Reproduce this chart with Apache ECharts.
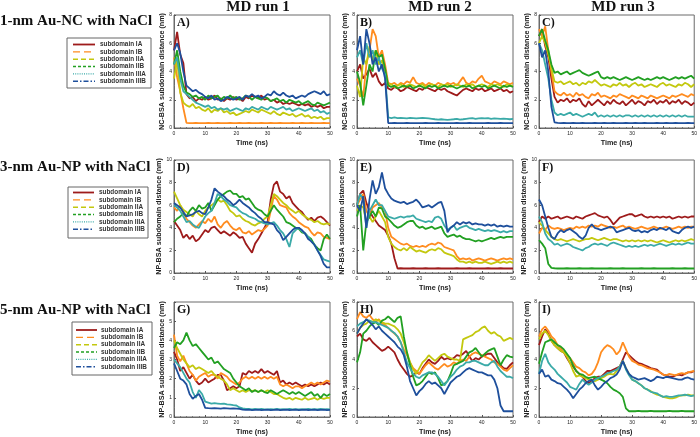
<!DOCTYPE html>
<html><head><meta charset="utf-8">
<script src="https://cdn.jsdelivr.net/npm/echarts@6/dist/echarts.min.js"></script>
<style>html,body{margin:0;padding:0;background:#fff}#c{width:700px;height:437px}</style>
</head><body><div id="c"></div>
<script>
// ---------- DATA ----------
const time = [0,1,2,3,4,5,6,7,8,9,10,11,12,13,14,15,16,17,18,19,20,21,22,23,24,25,26,27,28,29,30,31,32,33,34,35,36,37,38,39,40,41,42,43,44,45,46,47,48,49,50];
const subdomains = ['subdomain IA','subdomain IB','subdomain IIA','subdomain IIB','subdomain IIIA','subdomain IIIB'];
const colTitles = ['MD run 1','MD run 2','MD run 3'];
const rowTitles = ['1-nm Au-NC with NaCl','3-nm Au-NP with NaCl','5-nm Au-NP with NaCl'];
const yNames = ['NC-BSA subdomain distance (nm)','NP-BSA subdomain distance (nm)','NP-BSA subdomain distance (nm)'];
const panelLabels = ['A)','B)','C)','D)','E)','F)','G)','H)','I)'];
const yMax = [8,8,8,10,10,10,6,8,8];
const yStep = [2,2,2,2,2,2,1,2,2];

// Panel A
const A_IA = [5.5,6.8,5.2,4.6,2.4,2.1,2.2,1.9,2.1,2.0, 2.2,2.0,2.1,2.3,2.0,2.1,1.9,2.1,2.0,2.2, 2.0,2.1,1.9,2.2,2.1,2.3,2.2,2.1,2.3,2.0, 2.1,1.9,2.0,1.8,1.9,1.7,1.8,1.7,1.8,1.7, 1.6,1.7,1.6,1.7,1.5,1.6,1.5,1.6,1.4,1.5, 1.5];
const A_IB = [5.0,3.6,2.6,1.4,0.36,0.35,0.34,0.36,0.35,0.34, 0.35,0.36,0.34,0.35,0.36,0.35,0.34,0.35,0.36,0.35, 0.35,0.36,0.34,0.35,0.36,0.35,0.34,0.35,0.36,0.35, 0.35,0.36,0.34,0.35,0.36,0.35,0.34,0.35,0.36,0.35, 0.35,0.36,0.34,0.35,0.36,0.35,0.34,0.35,0.36,0.35, 0.35];
const A_IIA = [3.5,4.8,2.5,1.8,1.6,1.5,1.7,1.4,1.5,1.3, 1.2,1.4,1.1,1.3,1.2,1.4,1.1,1.2,1.0,1.1, 0.9,1.0,1.1,1.2,1.1,1.3,1.2,1.1,1.3,1.2, 1.1,1.0,1.2,1.0,0.9,1.1,1.0,0.9,1.0,0.8, 0.9,1.0,0.8,0.9,0.7,0.8,0.7,0.8,0.6,0.7, 0.7];
const A_IIB = [4.5,5.5,4.0,3.0,2.5,2.4,2.2,2.3,2.1,2.2, 2.0,2.3,2.1,2.2,2.3,2.0,2.2,2.1,2.3,2.1, 2.2,2.0,2.1,2.3,2.2,2.0,2.2,2.1,2.0,2.2, 2.1,1.9,2.0,2.1,1.9,2.0,1.8,2.0,1.9,1.8, 1.9,1.7,1.8,1.9,1.7,1.6,1.8,1.7,1.6,1.7, 1.8];
const A_IIIA = [4.5,5.0,3.5,2.6,2.4,2.2,2.0,1.8,1.7,1.6, 1.5,1.6,1.4,1.5,1.3,1.4,1.3,1.4,1.2,1.3, 1.4,1.3,1.2,1.4,1.3,1.5,1.4,1.3,1.5,1.4, 1.3,1.5,1.4,1.3,1.4,1.5,1.3,1.4,1.2,1.3, 1.4,1.3,1.2,1.3,1.4,1.2,1.3,1.1,1.2,1.0, 1.1];
const A_IIIB = [5.5,6.0,5.3,4.0,3.0,2.8,2.6,2.7,2.5,2.4, 2.2,2.1,2.3,2.0,2.1,1.9,2.0,2.2,2.1,2.0, 2.1,2.2,2.0,2.3,2.2,2.4,2.2,2.3,2.1,2.2, 2.4,2.3,2.6,2.4,2.3,2.5,2.3,2.2,2.3,2.1, 2.2,2.3,2.2,2.4,2.5,2.6,2.5,2.4,2.6,2.3, 2.4];

// Panel B
const B_IA = [4.0,4.5,3.5,3.8,4.2,3.6,3.9,3.3,3.0,3.2, 2.8,2.7,2.9,2.8,2.6,2.7,2.9,2.8,2.7,2.6, 2.8,2.7,2.9,2.8,2.7,2.6,2.8,2.7,2.8,2.6, 2.5,2.4,2.3,2.5,2.7,2.8,2.7,2.6,2.8,2.7, 2.8,2.6,2.7,2.8,2.6,2.7,2.8,2.6,2.7,2.5, 2.6];
const B_IB = [3.5,3.0,2.2,4.5,5.5,7.0,6.5,5.0,5.5,4.5, 3.2,3.1,3.2,3.0,3.2,3.1,3.3,3.2,3.6,3.2, 3.1,3.2,3.0,3.2,3.1,3.0,3.2,3.1,3.0,3.2, 3.1,3.2,3.0,3.3,3.6,3.2,3.1,3.3,3.2,3.5, 3.7,3.3,3.2,3.1,3.3,3.2,3.1,3.3,3.2,3.1, 3.2];
const B_IIA = [3.0,2.2,5.0,4.5,5.8,4.8,5.5,4.5,4.8,3.8, 3.0,3.1,2.9,3.0,3.1,2.9,3.0,3.1,3.0,2.9, 3.0,3.1,2.9,3.0,3.1,3.0,2.9,3.1,3.0,3.1, 2.9,3.0,3.1,3.0,2.9,3.1,3.0,3.1,2.9,3.0, 3.1,3.0,2.9,3.1,3.0,3.1,3.0,2.9,3.1,3.0, 3.0];
const B_IIB = [4.0,3.2,1.6,3.0,4.5,4.0,5.5,5.0,5.2,4.2, 3.0,2.9,3.0,2.8,2.9,3.0,2.9,3.0,2.8,2.9, 3.0,2.9,2.8,3.0,2.9,3.0,2.8,2.9,3.0,2.9, 3.0,2.9,2.8,2.9,3.0,2.9,3.0,2.8,2.9,3.0, 2.9,3.0,2.8,2.9,3.0,2.9,2.8,3.0,2.9,3.0, 2.9];
const B_IIIA = [5.0,5.5,4.5,6.0,5.0,5.5,4.5,5.0,4.2,3.8, 0.75,0.7,0.75,0.7,0.72,0.7,0.68,0.72,0.7,0.68, 0.7,0.72,0.7,0.68,0.65,0.62,0.6,0.62,0.6,0.58, 0.6,0.62,0.65,0.6,0.62,0.65,0.68,0.7,0.65,0.68, 0.7,0.68,0.7,0.65,0.68,0.66,0.64,0.66,0.64,0.62, 0.64];
const B_IIIB = [5.5,6.5,4.5,7.0,6.0,4.5,5.0,4.0,4.5,3.5, 0.35,0.34,0.36,0.35,0.34,0.35,0.36,0.35,0.34,0.35, 0.35,0.34,0.36,0.35,0.34,0.35,0.36,0.35,0.34,0.35, 0.35,0.34,0.36,0.35,0.34,0.35,0.36,0.35,0.34,0.35, 0.35,0.34,0.36,0.35,0.34,0.35,0.36,0.35,0.34,0.35, 0.35];

// Panel C
const C_IA = [6.5,7.0,5.8,5.0,3.5,2.2,1.8,2.0,1.9,2.1, 1.8,2.0,1.9,2.1,1.7,1.5,1.9,1.6,1.8,2.0, 1.8,1.6,1.9,1.7,2.0,1.8,1.7,1.9,1.6,1.8, 2.0,1.7,1.9,1.8,1.6,1.9,1.8,2.0,1.7,1.9, 1.8,2.0,1.7,1.9,1.8,2.0,1.7,1.9,1.8,1.6, 1.8];
const C_IB = [7.0,6.5,7.2,5.5,4.0,2.6,2.4,2.3,2.5,2.3, 2.4,2.2,2.5,2.3,2.4,2.2,2.1,2.4,2.3,2.5, 2.2,2.3,2.2,2.1,2.3,2.2,2.4,2.3,2.2,2.1, 2.3,2.2,2.1,2.3,2.2,2.1,2.3,2.2,2.1,2.2, 2.3,2.2,2.1,2.3,2.2,2.3,2.4,2.3,2.2,2.4, 2.3];
const C_IIA = [6.0,6.5,6.0,5.2,4.2,3.3,3.2,3.3,3.1,3.2, 3.3,3.1,3.2,3.0,3.2,3.1,3.3,3.2,3.4,3.2, 3.0,3.1,3.0,2.9,3.1,3.0,3.2,3.0,3.1,2.9, 3.1,3.2,3.0,3.1,2.9,3.0,3.1,3.0,2.9,3.1, 3.2,3.0,3.1,3.0,2.9,3.1,3.0,3.2,3.1,2.9, 3.1];
const C_IIB = [6.5,7.0,6.2,5.5,4.5,3.9,4.0,3.8,3.9,4.0, 3.8,3.9,4.0,4.1,3.9,3.8,3.7,3.8,3.9,4.0, 3.6,3.5,3.6,3.5,3.6,3.5,3.4,3.5,3.6,3.5, 3.4,3.5,3.6,3.5,3.4,3.5,3.4,3.5,3.6,3.5, 3.6,3.5,3.4,3.5,3.6,3.5,3.6,3.5,3.6,3.7, 3.5];
const C_IIIA = [6.0,5.5,4.5,3.5,2.0,1.1,0.9,1.0,0.9,1.0, 1.1,0.9,1.0,0.9,0.8,0.9,1.0,0.9,1.1,0.8, 0.9,0.8,0.9,0.8,0.9,0.8,0.9,0.8,0.9,0.9, 0.8,0.9,0.8,0.9,0.8,0.9,0.8,0.9,0.8,0.9, 0.8,0.9,0.8,0.9,0.8,0.9,0.8,0.9,0.8,0.8, 0.8];
const C_IIIB = [6.0,5.0,5.5,4.0,1.5,0.4,0.36,0.35,0.36,0.35, 0.35,0.36,0.34,0.35,0.36,0.35,0.34,0.35,0.36,0.35, 0.35,0.36,0.34,0.35,0.36,0.35,0.34,0.35,0.36,0.35, 0.35,0.36,0.34,0.35,0.36,0.35,0.34,0.35,0.36,0.35, 0.35,0.36,0.34,0.35,0.36,0.35,0.34,0.35,0.36,0.35, 0.35];

// Panel D
const D_IA = [4.6,4.2,3.8,3.1,3.4,3.0,3.3,2.8,3.0,3.4, 3.8,3.6,4.0,4.1,3.8,3.5,3.7,3.5,3.3,3.6, 3.4,3.1,3.2,2.6,2.2,1.8,2.6,3.0,3.5,4.0, 4.5,6.5,7.8,8.1,7.2,7.0,6.6,6.8,6.2,5.9, 5.6,5.4,5.0,4.7,4.9,4.6,4.9,5.0,4.8,4.5, 4.2];
const D_IB = [5.8,5.5,6.0,5.3,4.8,4.5,4.2,4.0,4.3,4.6, 4.4,4.8,4.5,5.0,4.3,4.0,4.4,4.6,4.2,3.9, 3.8,4.0,3.6,3.5,3.7,3.4,3.6,3.8,3.7,3.9, 4.2,5.5,6.8,6.5,6.0,5.9,5.8,5.3,5.0,4.8, 4.5,4.3,4.1,4.0,3.6,3.3,3.6,3.5,3.2,3.1, 3.0];
const D_IIA = [7.2,6.6,6.0,5.6,5.4,5.2,5.0,5.5,5.2,5.0, 5.5,5.8,6.0,6.2,6.5,6.3,6.4,6.0,5.5,5.3, 5.0,5.1,4.8,4.6,4.5,4.3,4.2,4.4,4.5,4.8, 5.0,6.0,7.0,6.8,6.5,6.2,6.0,5.7,5.5,5.3, 5.5,5.2,5.0,4.8,4.7,4.5,4.6,4.4,4.3,4.4, 4.3];
const D_IIB = [4.5,4.8,5.0,5.3,5.0,5.5,5.8,5.5,6.0,5.7, 5.8,6.2,5.5,6.0,6.5,6.8,7.0,7.2,7.3,7.0, 7.0,6.7,6.8,6.5,6.6,6.2,5.8,5.6,5.5,5.2, 5.0,5.5,6.0,5.6,5.3,5.0,4.5,4.4,4.2,4.0, 3.9,3.6,3.5,3.2,3.0,2.5,2.2,2.0,3.0,3.4, 3.0];
const D_IIIA = [6.0,5.8,5.5,5.0,4.5,4.6,4.3,4.1,4.0,4.5, 5.0,5.3,5.5,6.2,7.0,6.8,6.5,6.3,6.0,5.9, 5.8,5.5,5.3,5.2,5.0,4.9,4.8,4.6,4.5,4.4, 4.3,4.4,4.5,4.2,3.8,3.5,3.0,2.3,3.5,3.8, 4.0,3.7,3.5,3.2,2.8,2.5,2.0,1.6,1.2,1.1, 1.0];
const D_IIIB = [6.2,6.0,5.8,5.4,5.0,5.1,5.2,5.4,5.5,5.3, 5.2,5.8,6.5,7.5,7.2,7.0,6.8,6.5,6.3,6.0, 6.2,6.5,6.2,6.0,5.8,5.5,5.3,5.0,4.8,4.5, 4.5,4.4,4.3,3.8,3.5,2.9,3.2,3.5,3.8,4.0, 4.0,3.8,3.5,3.0,2.8,2.5,2.0,1.5,0.8,0.5, 0.5];

// Panel E
const E_IA = [6.0,7.0,7.3,6.2,5.5,5.0,4.6,4.2,4.0,3.8, 3.3,2.6,1.3,0.4,0.42,0.4,0.41,0.4,0.42,0.4, 0.41,0.4,0.42,0.4,0.41,0.4,0.42,0.4,0.41,0.4, 0.41,0.4,0.42,0.4,0.41,0.4,0.42,0.4,0.41,0.4, 0.41,0.4,0.42,0.4,0.41,0.4,0.42,0.4,0.41,0.4, 0.4];
const E_IB = [6.0,6.5,7.0,5.5,5.0,5.8,6.0,6.2,5.8,5.5, 4.0,3.2,3.0,2.8,2.6,2.5,2.6,2.4,2.3,2.4, 2.3,2.4,2.3,2.5,2.6,2.5,2.7,2.6,2.3,2.2, 2.1,2.0,1.5,1.2,1.3,1.2,1.3,1.1,1.2,1.3, 1.2,1.1,1.2,1.3,1.2,1.1,1.2,1.3,1.2,1.3, 1.2];
const E_IIA = [5.5,6.0,5.8,4.5,5.0,4.5,5.0,5.5,5.0,4.5, 3.2,2.6,2.3,2.1,2.0,2.2,2.0,2.3,2.1,1.9, 2.0,1.9,1.8,2.0,2.1,2.0,2.2,2.1,1.8,1.7, 1.6,1.5,1.2,1.0,1.0,0.9,1.0,0.9,1.0,0.9, 0.9,1.0,0.9,0.8,0.9,1.0,0.9,1.0,0.9,1.0, 0.9];
const E_IIB = [5.0,6.0,2.0,4.5,5.0,5.5,5.0,5.8,5.7,5.0, 4.8,4.5,4.2,4.0,4.1,4.3,4.5,4.6,4.6,4.2, 4.0,4.1,3.9,4.0,4.1,3.9,4.0,4.1,3.5,3.2, 3.3,3.4,3.2,3.3,3.1,3.0,3.0,2.9,2.8,2.9, 2.8,2.9,3.0,3.1,3.0,3.1,3.2,3.1,3.2,3.2, 3.2];
const E_IIIA = [6.0,7.0,6.5,4.0,5.5,6.0,6.5,6.0,6.0,5.5, 5.0,4.9,4.8,4.9,5.0,4.9,5.0,5.0,5.1,4.8, 4.7,4.6,4.5,4.6,4.5,4.9,5.0,4.8,4.2,3.8, 4.0,4.2,3.8,4.0,4.1,4.2,4.0,3.9,3.8,3.9, 3.8,3.7,3.8,3.7,3.8,3.7,3.6,3.7,3.6,3.7, 3.7];
const E_IIIB = [6.0,5.5,6.8,4.0,6.5,8.2,7.0,7.6,8.9,7.5, 7.0,6.6,6.4,6.3,6.2,6.3,6.1,6.2,6.3,6.5, 6.2,5.8,5.9,6.0,5.8,6.0,6.2,6.3,5.5,3.6, 4.0,4.2,4.5,4.3,4.5,4.4,4.5,4.3,4.4,4.3, 4.3,4.2,4.3,4.2,4.3,4.1,4.2,4.1,4.2,4.1, 4.1];

// Panel F
const F_IA = [4.5,5.0,4.8,5.0,4.8,4.9,5.0,4.8,4.9,5.0, 4.9,4.8,5.0,4.9,4.8,5.0,5.1,5.2,5.3,5.1, 5.0,4.9,5.0,4.7,4.3,4.6,4.9,5.0,5.1,5.2, 5.2,5.0,5.1,5.2,5.0,4.9,5.0,4.9,5.0,4.9, 5.0,4.9,5.0,4.8,4.9,5.0,4.9,5.0,4.9,5.0, 5.0];
const F_IB = [3.5,4.0,3.8,4.2,4.0,3.9,4.0,3.9,3.8,3.9, 4.0,3.9,4.1,4.0,4.1,4.0,4.2,4.1,4.2,4.1, 4.3,4.2,4.1,4.0,4.1,4.0,4.1,4.2,4.0,4.1, 4.0,3.9,4.0,4.1,4.0,3.9,4.0,4.1,4.0,3.9, 4.0,4.1,4.0,3.9,4.0,4.1,4.0,4.1,4.0,4.1, 4.1];
const F_IIA = [4.5,4.2,3.8,3.5,3.2,3.0,2.9,3.0,2.9,2.8, 2.9,3.0,2.9,2.8,2.9,3.0,3.0,3.1,3.0,2.9, 3.0,3.1,3.0,2.9,3.0,3.0,2.9,2.8,2.9,2.8, 2.9,2.8,2.9,2.8,2.9,2.8,2.9,2.8,2.7,2.8, 2.9,2.8,2.7,2.8,2.9,2.8,2.9,2.8,2.9,3.0, 2.9];
const F_IIB = [2.9,2.6,2.2,0.8,0.45,0.42,0.4,0.41,0.4,0.42, 0.4,0.41,0.4,0.42,0.4,0.41,0.4,0.42,0.4,0.41, 0.4,0.41,0.4,0.42,0.4,0.41,0.4,0.42,0.4,0.41, 0.4,0.41,0.4,0.42,0.4,0.41,0.4,0.42,0.4,0.41, 0.4,0.41,0.4,0.42,0.4,0.41,0.4,0.42,0.4,0.41, 0.4];
const F_IIIA = [5.0,4.5,3.5,3.0,2.8,2.5,2.6,2.4,2.5,2.6, 2.5,2.3,2.2,2.1,2.0,2.2,2.3,2.5,2.6,2.5, 2.6,2.5,2.4,2.6,2.7,2.6,2.5,2.4,2.3,2.4, 2.3,2.4,2.3,2.4,2.5,2.4,2.5,2.4,2.5,2.6, 2.5,2.4,2.5,2.6,2.5,2.6,2.5,2.6,2.7,2.6, 2.6];
const F_IIIB = [6.5,6.0,5.0,4.0,3.2,3.0,3.5,3.8,3.6,3.8, 3.9,3.7,3.5,3.2,3.0,3.3,4.0,4.3,4.0,3.9, 3.8,3.9,4.0,4.1,4.0,3.6,3.7,3.8,3.9,4.0, 3.8,3.7,3.8,3.6,3.7,3.6,3.8,3.9,3.8,4.0, 3.9,3.8,4.0,3.7,3.6,3.5,3.8,4.0,4.1,4.0, 4.1];

// Panel G
const G_IA = [3.4,3.0,2.4,2.6,2.3,2.0,2.2,1.9,1.7,1.8, 2.0,1.8,1.9,2.0,2.2,2.2,1.9,1.4,1.5,1.6, 1.5,1.6,2.3,2.2,2.4,2.3,2.4,2.3,2.5,2.3, 2.4,2.3,2.2,2.4,1.8,1.9,1.7,1.8,1.7,1.8, 1.7,1.6,1.7,1.6,1.7,1.6,1.7,1.8,1.7,1.8, 1.7];
const G_IB = [4.3,3.2,2.9,3.2,2.8,2.4,2.2,1.9,2.1,2.2, 2.3,2.1,2.2,2.2,2.0,2.3,2.2,2.1,1.9,1.8, 1.7,1.8,2.0,2.1,2.0,2.1,2.0,2.1,2.0,2.1, 2.0,2.1,2.0,2.1,1.7,1.6,1.7,1.6,1.5,1.6, 1.6,1.5,1.6,1.7,1.8,1.7,1.8,1.7,1.8,1.9, 1.85];
const G_IIA = [4.0,3.6,3.3,3.0,2.8,2.6,2.7,2.5,2.6,2.5, 2.4,2.3,2.4,2.2,2.1,2.0,1.9,1.7,1.4,1.5, 1.4,1.3,1.4,1.3,1.4,1.35,1.4,1.3,1.4,1.3, 1.4,1.3,1.2,1.2,1.1,1.0,0.95,1.0,0.9,1.0, 0.95,0.9,1.0,0.9,0.95,1.0,0.9,1.0,0.95,1.0, 1.0];
const G_IIB = [3.6,3.9,3.8,4.0,4.4,4.0,3.7,3.8,3.6,3.4, 3.2,3.0,3.1,2.8,2.9,2.7,2.5,2.4,2.3,2.0, 1.8,1.6,1.5,1.4,1.5,1.3,1.4,1.3,1.4,1.3, 1.25,1.4,1.3,1.2,1.3,1.4,1.3,1.2,1.3,1.2, 1.3,1.2,1.1,1.2,1.3,1.1,1.2,1.0,1.2,1.1, 1.2];
const G_IIIA = [3.0,2.8,2.6,2.3,2.0,1.8,1.3,1.0,1.4,1.2, 0.8,0.75,0.7,0.72,0.7,0.68,0.7,0.66,0.65,0.62, 0.6,0.5,0.45,0.42,0.42,0.4,0.42,0.4,0.42,0.4, 0.4,0.41,0.4,0.42,0.4,0.41,0.4,0.42,0.4,0.41, 0.4,0.41,0.4,0.42,0.4,0.41,0.4,0.42,0.4,0.41, 0.4];
const G_IIIB = [2.8,2.4,2.0,1.9,1.7,1.2,0.95,1.1,1.2,0.9, 0.48,0.46,0.45,0.46,0.45,0.44,0.46,0.45,0.44,0.45, 0.44,0.42,0.38,0.37,0.38,0.36,0.37,0.38,0.36,0.37, 0.38,0.36,0.37,0.38,0.36,0.37,0.38,0.36,0.37,0.38, 0.36,0.37,0.38,0.36,0.37,0.38,0.36,0.37,0.38,0.36, 0.37];

// Panel H
const H_IA = [5.6,5.8,5.4,5.3,5.5,5.2,5.0,4.8,4.6,4.7, 4.9,4.7,4.5,4.0,3.6,3.3,3.0,2.8,2.9,3.1, 3.0,3.4,3.7,4.0,3.8,3.7,3.9,4.2,4.0,4.1, 4.0,4.1,4.3,4.25,4.4,4.6,4.2,3.9,4.1,4.0, 4.2,4.3,4.4,4.4,4.1,3.8,3.6,3.4,3.35,3.6, 3.8];
const H_IB = [6.8,7.3,7.0,6.9,7.1,6.8,6.6,6.8,6.5,6.4, 6.2,6.0,5.8,5.6,5.2,4.7,4.3,3.8,3.4,3.2, 3.0,3.3,3.6,3.8,3.6,3.4,3.3,3.5,3.7,3.5, 3.6,3.8,3.7,3.9,4.0,3.9,4.2,4.4,4.5,4.4, 4.3,4.2,4.1,4.0,3.8,3.7,3.5,3.3,3.2,3.4, 3.6];
const H_IIA = [5.8,6.2,6.4,6.5,6.7,6.6,6.8,6.7,6.6,6.5, 6.5,6.4,6.3,6.1,5.8,5.2,4.5,3.8,3.3,3.0, 3.4,3.8,4.0,4.3,4.1,3.9,4.1,4.3,4.4,4.2, 4.1,4.0,4.0,3.9,5.4,5.5,5.6,5.7,5.9,6.0, 6.2,6.3,6.0,5.8,5.9,5.7,5.6,5.3,5.4,5.5, 5.4];
const H_IIB = [3.8,4.5,5.8,6.0,6.3,6.5,6.6,6.4,6.7,6.8, 7.0,6.8,6.6,6.9,7.0,5.6,4.5,3.6,2.8,2.2, 2.3,2.5,2.8,3.1,3.0,3.1,2.7,2.2,2.3,2.5, 3.0,3.6,3.7,3.8,3.9,4.2,4.5,4.6,4.8,4.5, 4.2,4.4,4.6,4.7,4.8,4.2,3.6,4.0,4.3,4.2, 4.15];
const H_IIIA = [6.3,6.5,6.6,6.75,6.7,6.6,6.6,6.5,6.4,6.3, 6.2,6.0,5.85,5.6,5.2,4.5,3.8,3.4,3.0,2.8, 2.7,2.9,3.0,3.1,3.1,3.0,2.8,2.5,2.2,2.5, 2.8,3.0,3.3,3.5,3.6,3.8,3.8,3.9,3.9,3.8, 3.7,3.6,3.6,3.8,3.9,3.5,3.2,3.0,2.8,2.8, 2.7];
const H_IIIB = [5.8,6.2,6.5,6.8,6.6,6.4,6.1,6.3,6.0,5.8, 5.6,5.4,5.2,4.9,4.7,4.3,3.5,2.5,2.0,1.5, 1.8,2.0,2.3,2.5,2.3,2.4,2.2,2.0,1.6,2.0, 2.4,2.6,2.8,2.9,3.1,3.3,3.4,3.3,3.2,3.1, 3.1,3.0,2.9,2.9,2.6,2.0,0.8,0.4,0.4,0.4, 0.4];

// Panel I
const I_IA = [5.0,5.6,6.1,5.8,5.3,5.0,4.8,4.6,4.5,4.1, 3.75,3.5,3.2,3.0,2.8,2.5,2.35,2.5,2.7,2.8, 2.8,3.0,3.2,3.2,3.3,3.4,3.5,4.0,4.5,4.3, 4.1,3.9,3.75,3.7,3.6,3.5,3.4,3.35,3.3,3.1, 2.95,2.9,2.8,2.8,2.9,2.95,2.9,3.0,3.1,3.1, 3.2];
const I_IB = [5.6,6.1,6.3,6.0,5.6,5.4,5.0,4.8,4.5,4.3, 4.1,3.8,3.5,3.4,3.2,3.1,2.9,3.0,3.3,3.8, 4.5,4.8,5.0,4.9,4.7,4.35,4.6,5.2,4.7,4.2, 3.9,3.8,3.65,3.6,3.5,3.4,3.35,3.3,3.2,3.1, 2.95,2.9,3.0,2.95,2.9,3.0,3.05,3.0,3.1,3.15, 3.2];
const I_IIA = [5.4,5.8,6.0,5.7,5.3,5.0,4.8,4.6,4.5,4.2, 3.75,3.2,2.8,2.9,2.8,2.7,2.6,2.55,2.5,2.6, 2.7,2.8,2.95,3.0,2.95,3.2,3.5,3.9,3.4,3.0, 2.6,2.5,2.35,2.2,2.0,1.9,1.8,1.65,1.55,1.5, 1.4,1.35,1.3,1.3,1.35,1.45,1.5,1.5,1.55,1.5, 1.5];
const I_IIB = [3.7,4.5,5.2,5.3,5.4,5.2,5.0,4.9,4.7,4.4, 4.1,3.6,3.2,3.0,2.95,2.8,2.7,2.75,2.8,2.7, 2.6,2.5,2.35,2.1,1.9,1.8,1.65,1.4,0.6,0.4, 0.41,0.4,0.42,0.4,0.41,0.4,0.42,0.4,0.41,0.4, 0.41,0.4,0.42,0.4,0.41,0.4,0.42,0.4,0.41,0.4, 0.4];
const I_IIIA = [3.0,3.9,4.4,3.8,3.5,3.3,3.0,2.8,2.6,2.4, 2.1,2.0,1.9,2.3,2.6,2.4,2.25,2.4,2.6,2.7, 2.8,2.9,3.05,3.1,3.2,3.3,3.5,3.9,3.3,2.9, 2.6,2.5,2.35,2.2,2.0,1.9,1.75,1.7,1.65,1.5, 1.4,1.45,1.4,1.4,1.45,1.5,1.5,1.55,1.5,1.45, 1.5];
const I_IIIB = [3.0,3.3,2.8,2.9,2.6,2.5,2.35,2.3,2.1,1.9, 1.65,1.3,1.6,1.9,2.1,2.35,2.5,2.6,2.2,1.9, 2.1,2.35,2.5,2.7,2.8,2.95,3.3,3.9,3.4,3.0, 2.8,2.7,2.6,2.65,2.7,2.6,2.5,2.6,2.8,2.75, 2.7,2.8,2.75,2.7,2.65,2.6,2.6,2.7,2.75,2.65, 2.6];

// ---------- BUILD ----------
const panelSeries = [
  [A_IA,A_IB,A_IIA,A_IIB,A_IIIA,A_IIIB],
  [B_IA,B_IB,B_IIA,B_IIB,B_IIIA,B_IIIB],
  [C_IA,C_IB,C_IIA,C_IIB,C_IIIA,C_IIIB],
  [D_IA,D_IB,D_IIA,D_IIB,D_IIIA,D_IIIB],
  [E_IA,E_IB,E_IIA,E_IIB,E_IIIA,E_IIIB],
  [F_IA,F_IB,F_IIA,F_IIB,F_IIIA,F_IIIB],
  [G_IA,G_IB,G_IIA,G_IIB,G_IIIA,G_IIIB],
  [H_IA,H_IB,H_IIA,H_IIB,H_IIIA,H_IIIB],
  [I_IA,I_IB,I_IIA,I_IIB,I_IIIA,I_IIIB]
];
const colors = ['#9e1b1b','#ff8c1f','#c3c80e','#22a022','#3aaaa8','#1e4f9c'];
const legendDash = ['solid',[7,4],[5,3],[3,2],[1,1.2],[5,2,1.5,2]];
const SANS = '"Liberation Sans", Arial, sans-serif';
const SERIF = '"Liberation Serif", "Times New Roman", serif';

const colLeft=[174,357,539], colW=[156,156,157], rowTop=[15,160,302], rowH=[113,113,115];
const grids=[], xAxes=[], yAxes=[], series=[], graphics=[];

for (let r=0;r<3;r++){
  for (let c=0;c<3;c++){
    const p=r*3+c;
    grids.push({left:colLeft[c], top:rowTop[r], width:colW[c], height:rowH[r], show:true, borderColor:'#6a6a6a', borderWidth:1, backgroundColor:'#fff'});
    xAxes.push({gridIndex:p, type:'value', min:0, max:50, interval:10,
      axisLine:{show:true, lineStyle:{color:'#6a6a6a', width:1}},
      axisTick:{show:true, inside:true, length:2, lineStyle:{color:'#555'}},
      minorTick:{show:true, splitNumber:5, length:1, lineStyle:{color:'#777'}},
      splitLine:{show:false},
      axisLabel:{fontSize:5, margin:3, color:'#222', fontFamily:SANS},
      name:'Time (ns)', nameLocation:'middle', nameGap:12,
      nameTextStyle:{fontSize:7.2, fontWeight:'bold', color:'#222', fontFamily:SANS}});
    yAxes.push({gridIndex:p, type:'value', min:0, max:yMax[p], interval:yStep[p],
      axisLine:{show:true, lineStyle:{color:'#6a6a6a', width:1}},
      axisTick:{show:true, inside:true, length:2, lineStyle:{color:'#555'}},
      minorTick:{show:true, splitNumber:2, length:1, lineStyle:{color:'#777'}},
      splitLine:{show:false},
      axisLabel:{fontSize:5, margin:2, color:'#222', fontFamily:SANS, showMaxLabel: yMax[p] !== 6},
      name:yNames[r], nameLocation:'middle', nameGap:7,
      nameTextStyle:{fontSize:7.2, fontWeight:'bold', color:'#222', fontFamily:SANS}});
    panelSeries[p].forEach((arr,k)=>{
      series.push({type:'line', name:subdomains[k], xAxisIndex:p, yAxisIndex:p,
        data: time.map((t,i)=>[t, arr[i]]), symbol:'none', showSymbol:false,
        lineStyle:{width:1.8, color:colors[k]}, itemStyle:{color:colors[k]},
        silent:true, animation:false});
    });
    graphics.push({type:'text', x:colLeft[c]+3, y:rowTop[r]+8, z:100,
      style:{text:panelLabels[p], font:'bold 12px '+SERIF, fill:'#111', align:'left', verticalAlign:'middle'}});
  }
}

// column titles
const colTitleX=[258,440,623];
colTitles.forEach((t,c)=>graphics.push({type:'text', x:colTitleX[c], y:7,
  style:{text:t, font:'bold 15px '+SERIF, fill:'#111', align:'center', verticalAlign:'middle'}}));
// row titles
const rowTitleY=[21,167,310];
rowTitles.forEach((t,r)=>graphics.push({type:'text', x:0, y:rowTitleY[r],
  style:{text:t, font:'bold 15px '+SERIF, fill:'#111', align:'left', verticalAlign:'middle'}}));

// legends (one per row)
const legendBox=[
  {x:67,y:38,w:84,h:50,e0:44.5,lx:73,lx2:95,tx:100},
  {x:68,y:187,w:80,h:51,e0:192.5,lx:73,lx2:94,tx:99},
  {x:72,y:322,w:80,h:53,e0:330,lx:76,lx2:97,tx:101}
];
legendBox.forEach(b=>{
  graphics.push({type:'rect', shape:{x:b.x,y:b.y,width:b.w,height:b.h},
    style:{fill:'#fff', stroke:'#666', lineWidth:1}, z:50});
  subdomains.forEach((s,k)=>{
    const yy=b.e0+k*7.35;
    graphics.push({type:'line', shape:{x1:b.lx,y1:yy,x2:b.lx2,y2:yy}, z:51,
      style:{stroke:colors[k], lineWidth:k===0?1.8:1.4, lineDash: legendDash[k]==='solid'?null:legendDash[k]}});
    graphics.push({type:'text', x:b.tx, y:yy, z:51,
      style:{text:s, font:'bold 6.4px '+SANS, fill:'#333', align:'left', verticalAlign:'middle'}});
  });
});

const chart = echarts.init(document.getElementById('c'), null, {renderer:'canvas'});
chart.setOption({animation:false, grid:grids, xAxis:xAxes, yAxis:yAxes, series:series, graphic:{elements:graphics}});
</script></body></html>
